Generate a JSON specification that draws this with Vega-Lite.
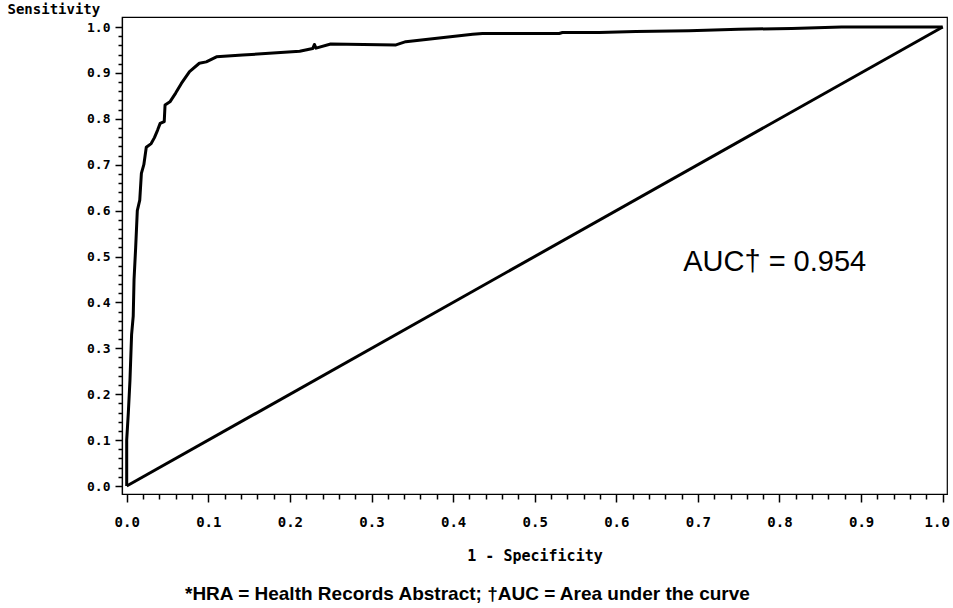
{
  "$schema": "https://vega.github.io/schema/vega-lite/v6.json",
  "autosize": {"type": "none"},
  "padding": {"left": 122, "top": 17, "right": 6, "bottom": 114},
  "width": 825,
  "height": 477,
  "background": "white",
  "config": {
    "view": {"stroke": "black", "strokeWidth": 1.2},
    "axis": {"grid": false}
  },
  "title": {
    "text": "*HRA = Health Records Abstract; †AUC = Area under the curve",
    "orient": "bottom",
    "anchor": "start",
    "frame": "group",
    "dx": 63,
    "offset": 22,
    "font": "Liberation Sans",
    "fontSize": 19,
    "fontWeight": "bold",
    "color": "black"
  },
  "datasets": {
    "roc": [
      {"step": 1, "fpr": 0, "tpr": 0},
      {"step": 2, "fpr": 0, "tpr": 0.1},
      {"step": 3, "fpr": 0.002, "tpr": 0.16},
      {"step": 4, "fpr": 0.004, "tpr": 0.23},
      {"step": 5, "fpr": 0.006, "tpr": 0.33},
      {"step": 6, "fpr": 0.008, "tpr": 0.37},
      {"step": 7, "fpr": 0.009, "tpr": 0.45},
      {"step": 8, "fpr": 0.011, "tpr": 0.52},
      {"step": 9, "fpr": 0.013, "tpr": 0.6},
      {"step": 10, "fpr": 0.016, "tpr": 0.623},
      {"step": 11, "fpr": 0.018, "tpr": 0.681},
      {"step": 12, "fpr": 0.021, "tpr": 0.7},
      {"step": 13, "fpr": 0.024, "tpr": 0.738},
      {"step": 14, "fpr": 0.030, "tpr": 0.746},
      {"step": 15, "fpr": 0.034, "tpr": 0.759},
      {"step": 16, "fpr": 0.038, "tpr": 0.776},
      {"step": 17, "fpr": 0.041, "tpr": 0.79},
      {"step": 18, "fpr": 0.046, "tpr": 0.794},
      {"step": 19, "fpr": 0.047, "tpr": 0.83},
      {"step": 20, "fpr": 0.053, "tpr": 0.837},
      {"step": 21, "fpr": 0.06, "tpr": 0.856},
      {"step": 22, "fpr": 0.067, "tpr": 0.877},
      {"step": 23, "fpr": 0.077, "tpr": 0.903},
      {"step": 24, "fpr": 0.089, "tpr": 0.921},
      {"step": 25, "fpr": 0.0975, "tpr": 0.924},
      {"step": 26, "fpr": 0.11, "tpr": 0.935},
      {"step": 27, "fpr": 0.142, "tpr": 0.939},
      {"step": 28, "fpr": 0.212, "tpr": 0.947},
      {"step": 29, "fpr": 0.228, "tpr": 0.953},
      {"step": 30, "fpr": 0.23, "tpr": 0.962},
      {"step": 31, "fpr": 0.232, "tpr": 0.954},
      {"step": 32, "fpr": 0.25, "tpr": 0.963},
      {"step": 33, "fpr": 0.33, "tpr": 0.961},
      {"step": 34, "fpr": 0.342, "tpr": 0.968},
      {"step": 35, "fpr": 0.424, "tpr": 0.984},
      {"step": 36, "fpr": 0.436, "tpr": 0.986},
      {"step": 37, "fpr": 0.53, "tpr": 0.986},
      {"step": 38, "fpr": 0.534, "tpr": 0.988},
      {"step": 39, "fpr": 0.579, "tpr": 0.988},
      {"step": 40, "fpr": 0.624, "tpr": 0.99},
      {"step": 41, "fpr": 0.689, "tpr": 0.992},
      {"step": 42, "fpr": 0.75, "tpr": 0.995},
      {"step": 43, "fpr": 0.815, "tpr": 0.997},
      {"step": 44, "fpr": 0.876, "tpr": 1.0},
      {"step": 45, "fpr": 1.0, "tpr": 1.0}
    ],
    "chance": [
      {"step": 1, "fpr": 0, "tpr": 0},
      {"step": 2, "fpr": 1, "tpr": 1}
    ]
  },
  "layer": [
    {
      "data": {"name": "chance"},
      "mark": {"type": "line", "color": "black", "strokeWidth": 3, "clip": true},
      "encoding": {
        "x": {"field": "fpr", "type": "quantitative", "scale": {"domain": [-0.00576, 1.00527], "nice": false, "zero": false},
          "title": "1 - Specificity",
          "axis": {
            "values": [0,0.02,0.04,0.06,0.08,0.1,0.12,0.14,0.16,0.18,0.2,0.22,0.24,0.26,0.28,0.3,0.32,0.34,0.36,0.38,0.4,0.42,0.44,0.46,0.48,0.5,0.52,0.54,0.56,0.58,0.6,0.62,0.64,0.66,0.68,0.7,0.72,0.74,0.76,0.78,0.8,0.82,0.84,0.86,0.88,0.9,0.92,0.94,0.96,0.98,1],
            "tickCount": 200,
            "labelExpr": "abs(datum.value*10 - round(datum.value*10)) < 0.001 ? format(datum.value, '.1f') : ''",
            "labelOverlap": false,
            "labelFlush": false,
            "labelBound": false,
            "labelFont": "DejaVu Sans Mono",
            "labelFontWeight": "bold",
            "labelFontSize": 14,
            "labelColor": "black",
            "labelPadding": 13,
            "labelOffset": {"condition": {"test": "datum.value > 0.99", "value": -6}, "value": 0},
            "tickColor": "black",
            "tickWidth": 1.5,
            "tickSize": {"condition": {"test": "abs(datum.value*10 - round(datum.value*10)) < 0.001", "value": 8}, "value": 5},
            "domainColor": "black",
            "domainWidth": 1.2,
            "titleFont": "DejaVu Sans Mono",
            "titleFontWeight": "bold",
            "titleFontSize": 15,
            "titleColor": "black",
            "titleY": 61,
            "titleBaseline": "middle"
          }
        },
        "y": {"field": "tpr", "type": "quantitative", "scale": {"domain": [-0.0174, 1.0218], "nice": false, "zero": false},
          "title": "Sensitivity",
          "axis": {
            "values": [0,0.02,0.04,0.06,0.08,0.1,0.12,0.14,0.16,0.18,0.2,0.22,0.24,0.26,0.28,0.3,0.32,0.34,0.36,0.38,0.4,0.42,0.44,0.46,0.48,0.5,0.52,0.54,0.56,0.58,0.6,0.62,0.64,0.66,0.68,0.7,0.72,0.74,0.76,0.78,0.8,0.82,0.84,0.86,0.88,0.9,0.92,0.94,0.96,0.98,1],
            "tickCount": 200,
            "labelExpr": "abs(datum.value*10 - round(datum.value*10)) < 0.001 ? format(datum.value, '.1f') : ''",
            "labelOverlap": false,
            "labelFlush": false,
            "labelBound": false,
            "labelFont": "DejaVu Sans Mono",
            "labelFontWeight": "bold",
            "labelFontSize": 13,
            "labelColor": "black",
            "labelPadding": 5,
            "tickColor": "black",
            "tickWidth": 1.5,
            "tickSize": {"condition": {"test": "abs(datum.value*10 - round(datum.value*10)) < 0.001", "value": 7}, "value": 4},
            "domainColor": "black",
            "domainWidth": 1.2,
            "titleFont": "DejaVu Sans Mono",
            "titleFontWeight": "bold",
            "titleFontSize": 14,
            "titleColor": "black",
            "titleAngle": 0,
            "titleAlign": "left",
            "titleBaseline": "middle",
            "titleX": -115,
            "titleY": -8
          }
        },
        "order": {"field": "step"}
      }
    },
    {
      "data": {"name": "roc"},
      "mark": {"type": "line", "color": "black", "strokeWidth": 3, "strokeJoin": "round", "clip": true},
      "encoding": {
        "x": {"field": "fpr", "type": "quantitative"},
        "y": {"field": "tpr", "type": "quantitative"},
        "order": {"field": "step"}
      }
    },
    {
      "data": {"values": [{"label": "AUC† = 0.954"}]},
      "mark": {"type": "text", "align": "left", "baseline": "middle", "font": "Liberation Sans", "fontSize": 29, "color": "black"},
      "encoding": {
        "x": {"datum": 0.682},
        "y": {"datum": 0.488},
        "text": {"field": "label"}
      }
    }
  ]
}
